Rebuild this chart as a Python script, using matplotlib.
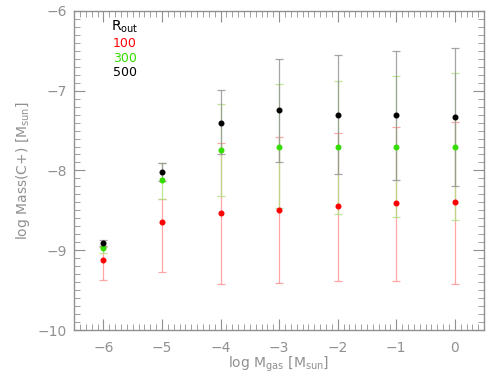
import matplotlib
matplotlib.use('Agg')
import matplotlib.pyplot as plt
from matplotlib.ticker import MultipleLocator
import numpy as np

# log gas mass [Msun]
log_mgas = [-6, -5, -4, -3, -2, -1, 0]

# R_out = 100
red_y = [-9.12, -8.65, -8.53, -8.49, -8.45, -8.41, -8.39]
red_hi = [-8.96, -8.36, -7.66, -7.58, -7.53, -7.46, -7.39]
red_lo = [-9.37, -9.27, -9.42, -9.41, -9.39, -9.38, -9.42]

# R_out = 300
green_y = [-8.97, -8.12, -7.75, -7.70, -7.71, -7.70, -7.70]
green_hi = [-8.95, -7.91, -7.17, -6.92, -6.88, -6.82, -6.78]
green_lo = [-9.04, -8.36, -8.32, -8.47, -8.55, -8.58, -8.62]

# R_out = 500
black_y = [-8.91, -8.02, -7.40, -7.24, -7.30, -7.31, -7.33]
black_hi = [-8.87, -7.91, -6.99, -6.60, -6.55, -6.50, -6.47]
black_lo = [-8.95, -8.13, -7.79, -7.89, -8.05, -8.12, -8.19]

series = [
    (red_y, red_hi, red_lo, '#ff0000', '#ff9090'),
    (green_y, green_hi, green_lo, '#33dd00', '#b0e080'),
    (black_y, black_hi, black_lo, '#000000', '#909090'),
]

axcol = '#909090'
plt.rcParams['font.family'] = 'DejaVu Sans'

fig = plt.figure(figsize=(4.91, 3.75), dpi=100)
ax = fig.add_axes([0.151, 0.12, 0.835, 0.851])

for y, hi, lo, c, ec in series:
    y = np.array(y)
    yerr = [y - np.array(lo), np.array(hi) - y]
    ax.errorbar(log_mgas, y, yerr=yerr, fmt='none', ecolor=ec, elinewidth=0.9,
                capsize=3, capthick=0.9, alpha=0.8)
for y, hi, lo, c, ec in series:
    ax.plot(log_mgas, y, 'o', color=c, ms=3.3, zorder=5)

ax.set_xlim(-6.5, 0.5)
ax.set_ylim(-10, -6)
ax.xaxis.set_major_locator(MultipleLocator(1))
ax.xaxis.set_minor_locator(MultipleLocator(0.1))
ax.yaxis.set_major_locator(MultipleLocator(1))
ax.yaxis.set_minor_locator(MultipleLocator(0.1))
ax.tick_params(which='both', direction='in', top=True, right=True, colors=axcol,
               labelcolor=axcol, labelsize=10)
ax.tick_params(which='major', length=8, width=0.8)
ax.tick_params(which='minor', length=4, width=0.6)
for sp in ax.spines.values():
    sp.set_color(axcol)
    sp.set_linewidth(1.0)
ax.tick_params(axis='x', pad=8)
ax.tick_params(axis='y', pad=5)

ax.set_xlabel(r'log M$_{\rm gas}$ [M$_{\rm sun}$]', color=axcol, fontsize=10, labelpad=0)
ax.set_ylabel(r'log Mass(C+) [M$_{\rm sun}$]', color=axcol, fontsize=10)

ax.text(0.09, 0.95, r'R$_{\rm out}$', transform=ax.transAxes, color='black', fontsize=10, va='center')
ax.text(0.095, 0.897, '100', transform=ax.transAxes, color='#ff0000', fontsize=9, va='center')
ax.text(0.095, 0.852, '300', transform=ax.transAxes, color='#33dd00', fontsize=9, va='center')
ax.text(0.095, 0.806, '500', transform=ax.transAxes, color='black', fontsize=9, va='center')

fig.savefig('out.png', dpi=100)
